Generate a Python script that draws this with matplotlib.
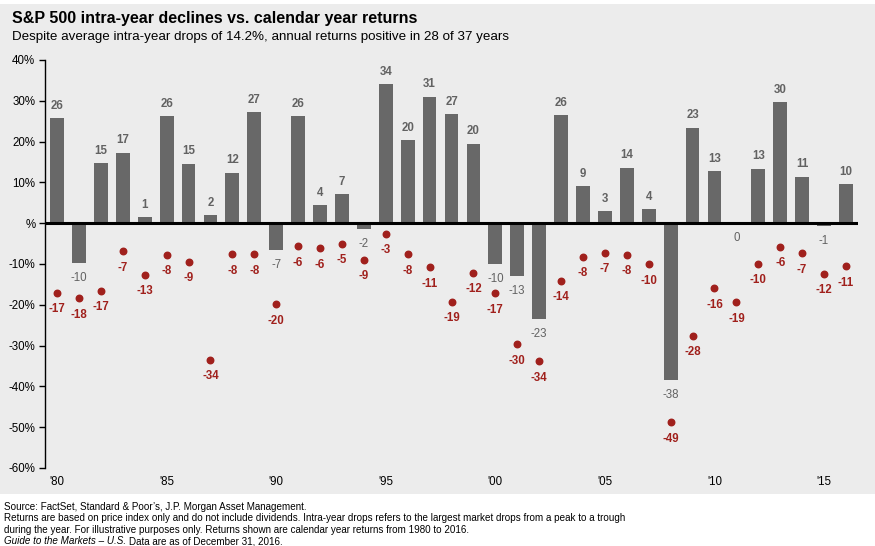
import matplotlib.pyplot as plt
from matplotlib.patches import Rectangle

years = list(range(1980, 2017))
returns = [25.8, -9.7, 14.8, 17.3, 1.4, 26.3, 14.6, 2.0, 12.4, 27.3,
           -6.6, 26.3, 4.5, 7.1, -1.5, 34.1, 20.3, 31.0, 26.7, 19.5,
           -10.1, -13.0, -23.4, 26.4, 9.0, 3.0, 13.6, 3.5, -38.5, 23.4,
           12.8, 0.0, 13.4, 29.6, 11.4, -0.7, 9.5]
declines = [-17.1, -18.4, -16.6, -6.9, -12.7, -7.7, -9.4, -33.5, -7.6, -7.6,
            -19.9, -5.7, -6.2, -5.0, -8.9, -2.6, -7.6, -10.8, -19.3, -12.1,
            -17.2, -29.7, -33.8, -14.1, -8.2, -7.2, -7.7, -10.1, -48.8, -27.6,
            -16.0, -19.4, -9.9, -5.8, -7.4, -12.4, -10.6]
yticks = [40, 30, 20, 10, 0, -10, -20, -30, -40, -50, -60]
ytick_labels = ["40%", "30%", "20%", "10%", "%", "-10%", "-20%", "-30%",
                "-40%", "-50%", "-60%"]
xtick_years = [1980, 1985, 1990, 1995, 2000, 2005, 2010, 2015]
xtick_labels = ["'80", "'85", "'90", "'95", "'00", "'05", "'10", "'15"]

bar_col = "#686868"
red = "#a0201c"
sans = ["Liberation Sans", "DejaVu Sans"]

fig = plt.figure(figsize=(8.75, 5.46), dpi=100)
fig.patches.append(Rectangle((0, 1 - 494 / 546), 1, (494 - 4) / 546,
                             transform=fig.transFigure, facecolor="#ececec",
                             edgecolor="none", zorder=-10))

ax = fig.add_axes([45 / 875, 1 - 468 / 546, (858 - 45) / 875, (468 - 60) / 546])
ax.set_facecolor("none")

ax.bar(years, returns, width=0.63, color=bar_col, zorder=2)
ax.scatter(years, declines, s=22, color=red, zorder=3)
ax.axhline(0, color="black", lw=2.2, zorder=4)

for yr, r in zip(years, returns):
    lab = str(int(round(r)))
    if r > 0.5:
        ax.annotate(lab, (yr, r), xytext=(0, 4.5), textcoords="offset points",
                    ha="center", va="bottom", fontsize=8.3, color="#626262",
                    fontweight="bold", family=sans)
    else:
        lab = "0" if abs(r) < 0.5 else lab
        ax.annotate(lab, (yr, min(r, 0)), xytext=(0, -6.5), textcoords="offset points",
                    ha="center", va="top", fontsize=8.3, color="#626262",
                    family=sans)

for yr, d in zip(years, declines):
    ax.annotate(str(int(round(d))), (yr, d), xytext=(0, -7.5), textcoords="offset points",
                ha="center", va="top", fontsize=8.3, color=red,
                fontweight="bold", family=sans)

ax.set_xlim(1979.45, 2016.55)
ax.set_ylim(-60, 40)
ax.set_yticks(yticks)
ax.set_yticklabels(ytick_labels, family=sans, fontsize=8.3)
ax.set_xticks(xtick_years)
ax.set_xticklabels(xtick_labels, family=sans, fontsize=8.3)
ax.tick_params(axis="x", length=0, pad=6)
ax.tick_params(axis="y", length=4, width=1, direction="out", pad=3)
for s in ["top", "right", "bottom"]:
    ax.spines[s].set_visible(False)
ax.spines["left"].set_linewidth(1)

fig.text(12 / 875, 1 - 19 / 546, "S&P 500 intra-year declines vs. calendar year returns",
         fontsize=11.5, fontweight="bold", family=sans, va="center")
fig.text(12 / 875, 1 - 37 / 546,
         "Despite average intra-year drops of 14.2%, annual returns positive in 28 of 37 years",
         fontsize=9.6, family=sans, va="center")

notes = ["Source: FactSet, Standard & Poor\u2019s, J.P. Morgan Asset Management.",
         "Returns are based on price index only and do not include dividends. Intra-year drops refers to the largest market drops from a peak to a trough",
         "during the year. For illustrative purposes only. Returns shown are calendar year returns from 1980 to 2016."]
for i, line in enumerate(notes):
    fig.text(4 / 875, 1 - (506.5 + 11.7 * i) / 546, line, fontsize=7.1,
             family=sans, va="center")
guide = fig.text(4 / 875, 1 - 541.5 / 546, "Guide to the Markets \u2013 U.S.", fontsize=7.1,
                 family=sans, style="italic", va="center")
fig.canvas.draw()
bb = guide.get_window_extent().transformed(fig.transFigure.inverted())
fig.text(bb.x1 + 3 / 875, 1 - 541.5 / 546, "Data are as of December 31, 2016.", fontsize=7.1,
         family=sans, va="center")

fig.savefig("out.png", dpi=100)
